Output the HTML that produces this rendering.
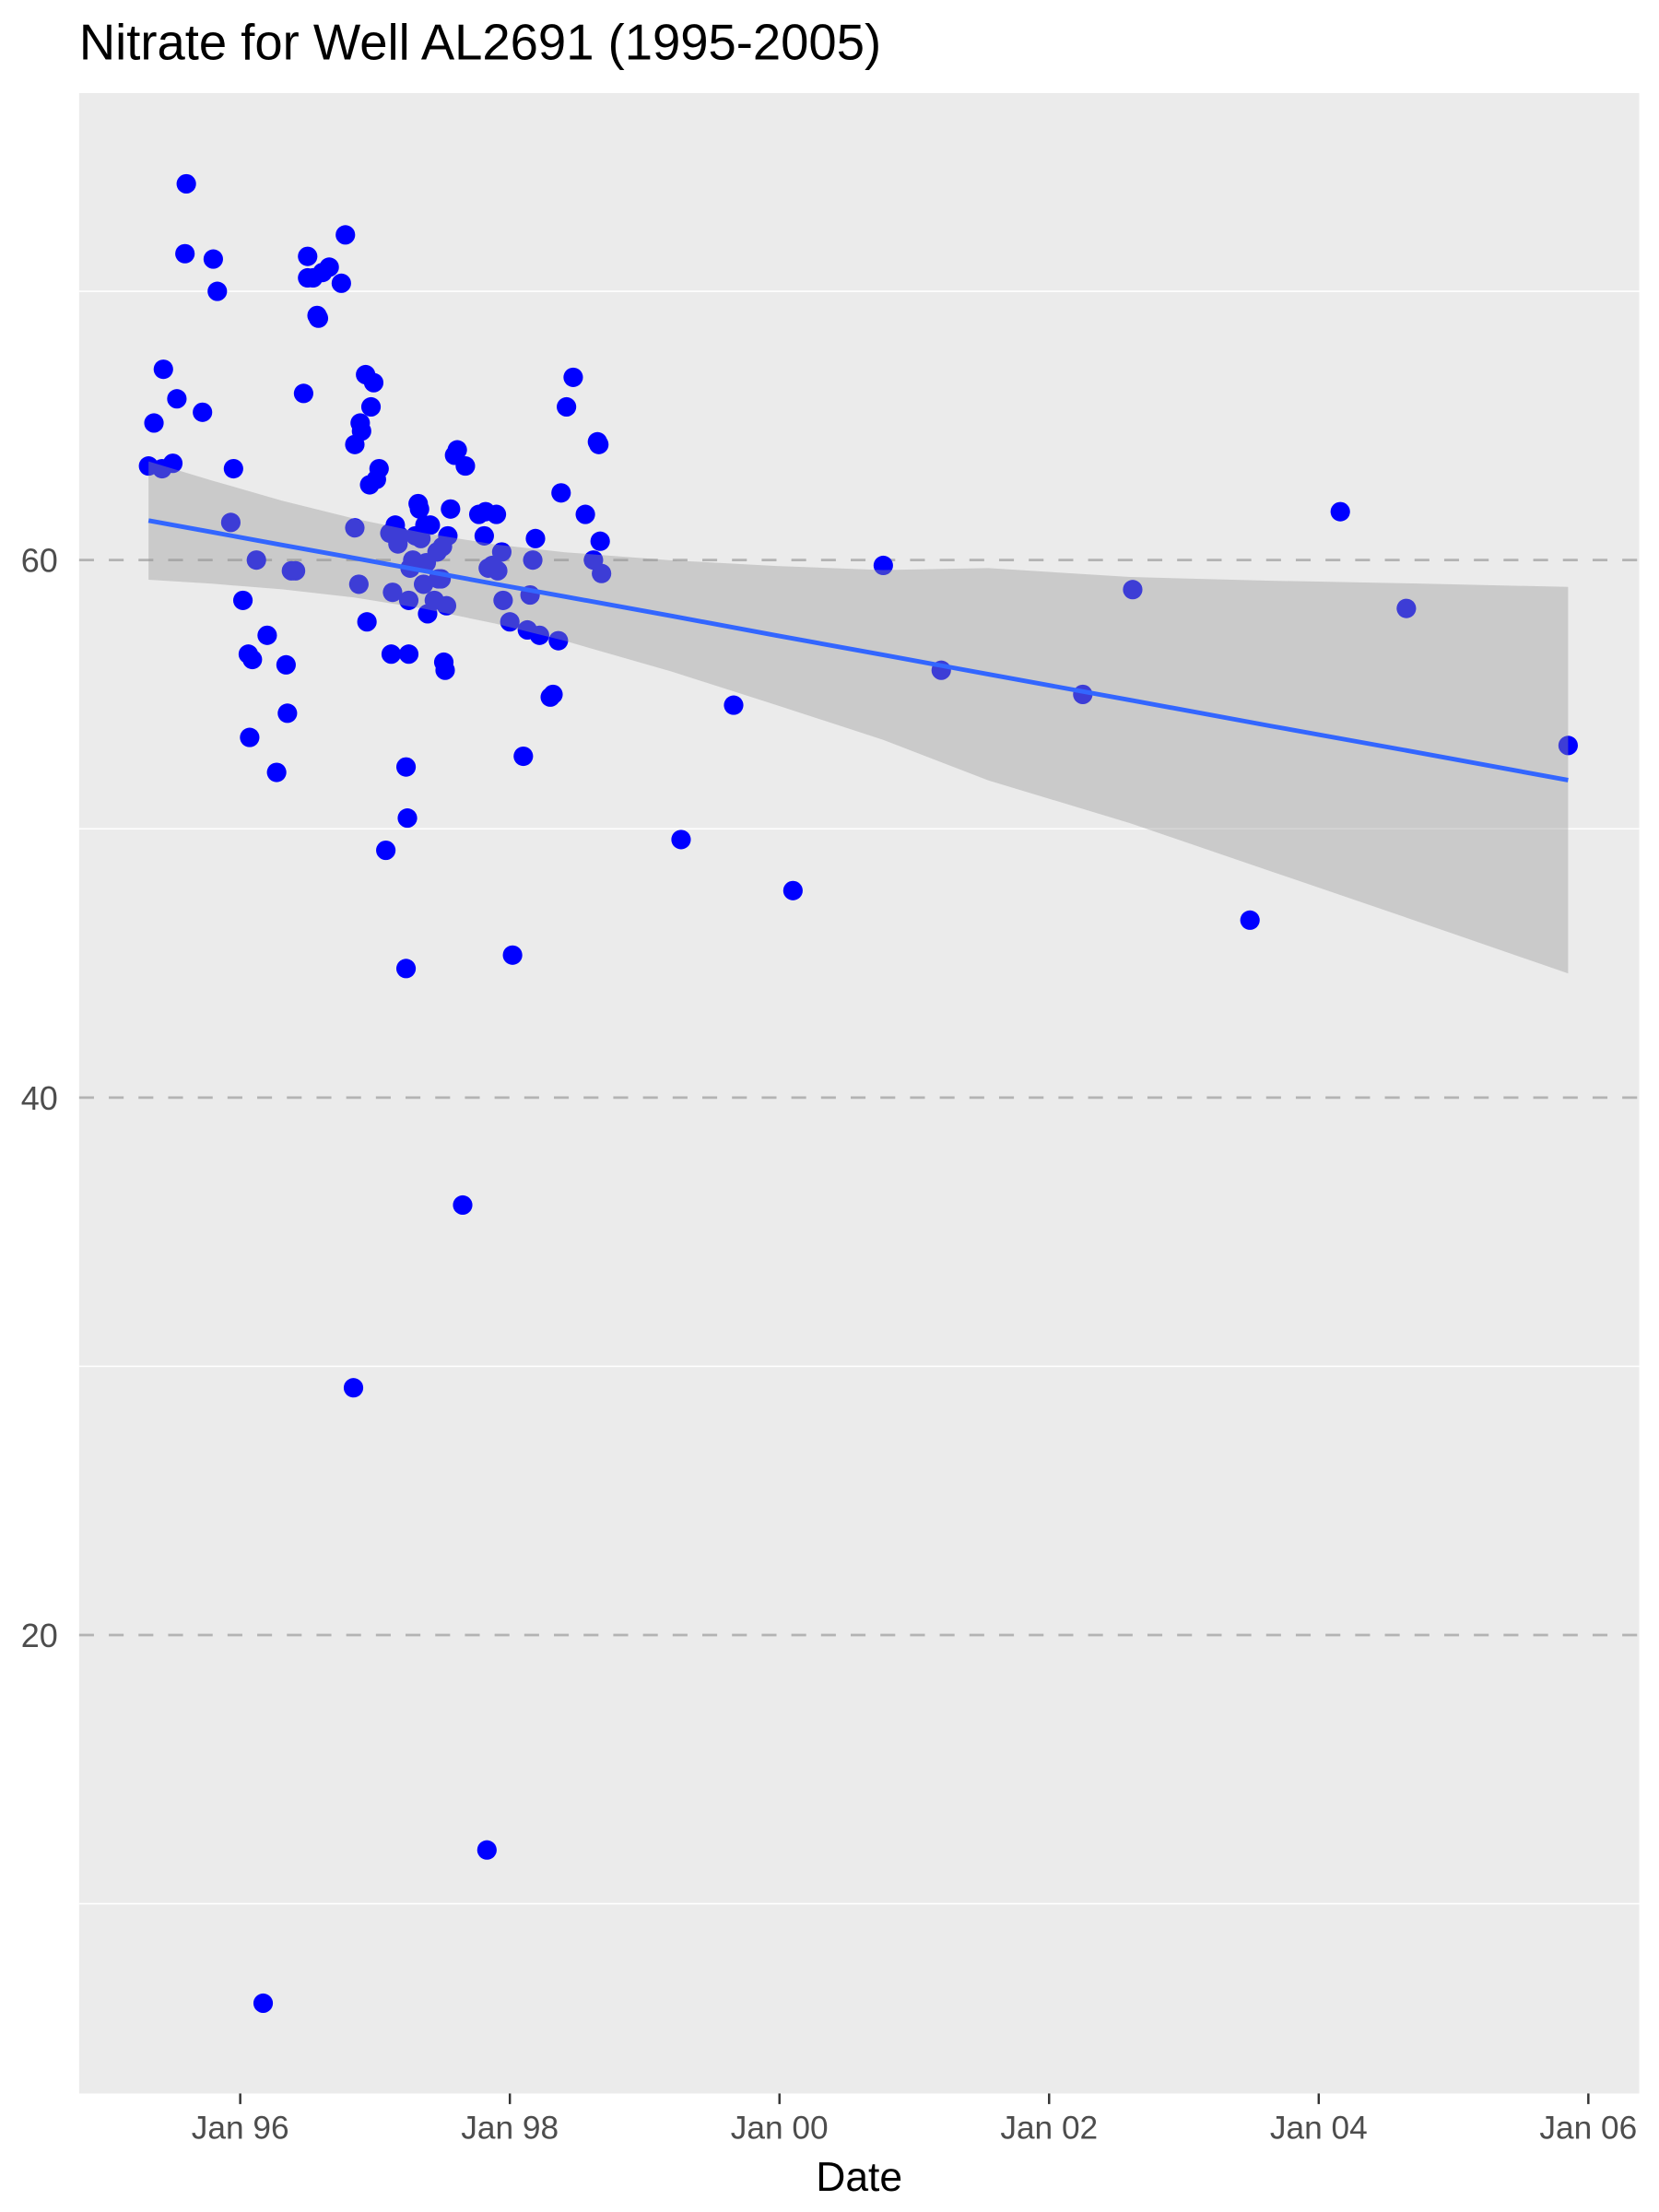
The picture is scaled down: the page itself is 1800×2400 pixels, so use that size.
<!DOCTYPE html>
<html><head><meta charset="utf-8"><style>
html,body{margin:0;padding:0;background:#fff;}
svg{display:block;}
text{font-family:"Liberation Sans",Arial,sans-serif;}
</style></head><body>
<svg id="chart" width="1800" height="2400" viewBox="0 0 1174 1568" preserveAspectRatio="none" xmlns="http://www.w3.org/2000/svg">
<rect x="0" y="0" width="1174" height="1568" fill="#fff"/>
<text x="56" y="42" font-size="35.5" fill="#000">Nitrate for Well AL2691 (1995-2005)</text>
<rect x="56" y="66" width="1104" height="1418" fill="#ebebeb"/>
<g id="grid"></g>
<g id="points"></g>
<g id="smooth"></g>
<g id="axes"></g>
<text x="608" y="1553" font-size="29" text-anchor="middle" fill="#000">Date</text>
</svg>
<script>
const years=[1995.32,1995.36,1995.43,1995.42,1995.50,1995.53,1995.59,1995.60,1995.72,1995.80,1995.83,1995.93,1995.95,1996.02,1996.06,1996.07,1996.09,1996.12,1996.17,1996.20,1996.27,1996.34,1996.35,1996.38,1996.41,1996.47,1996.50,1996.50,1996.54,1996.57,1996.58,1996.61,1996.66,1996.75,1996.78,1996.84,1996.85,1996.85,1996.88,1996.89,1996.90,1996.93,1996.94,1996.96,1996.97,1996.99,1997.01,1997.03,1997.08,1997.11,1997.12,1997.13,1997.15,1997.17,1997.18,1997.23,1997.23,1997.24,1997.25,1997.25,1997.26,1997.28,1997.30,1997.32,1997.33,1997.34,1997.36,1997.37,1997.38,1997.39,1997.41,1997.44,1997.46,1997.47,1997.49,1997.50,1997.51,1997.52,1997.53,1997.54,1997.56,1997.59,1997.61,1997.65,1997.67,1997.77,1997.81,1997.82,1997.83,1997.84,1997.87,1997.90,1997.91,1997.94,1997.95,1998.00,1998.02,1998.10,1998.13,1998.15,1998.17,1998.19,1998.22,1998.30,1998.32,1998.36,1998.38,1998.42,1998.47,1998.56,1998.62,1998.65,1998.66,1998.67,1998.68,1999.27,1999.66,2000.10,2000.77,2001.20,2002.25,2002.62,2003.49,2004.16,2004.65,2005.85];
const nitrate=[63.5,65.1,67.1,63.4,63.6,66.0,71.4,74.0,65.5,71.2,70.0,61.4,63.4,58.5,56.5,53.4,56.3,60.0,6.3,57.2,52.1,56.1,54.3,59.6,59.6,66.2,71.3,70.5,70.5,69.1,69.0,70.7,70.9,70.3,72.1,29.2,64.3,61.2,59.1,65.1,64.8,66.9,57.7,62.8,65.7,66.6,63.0,63.4,49.2,61.0,56.5,58.8,61.3,60.6,60.9,52.3,44.8,50.4,56.5,58.5,59.7,60.0,60.9,62.1,61.9,60.8,59.1,61.3,59.9,58.0,61.3,58.5,60.3,59.3,59.3,60.5,56.2,55.9,58.3,60.9,61.9,63.9,64.1,36.0,63.5,61.7,60.9,61.8,12.0,59.7,59.8,61.7,59.6,60.3,58.5,57.7,45.3,52.7,57.4,58.7,60.0,60.8,57.2,54.9,55.0,57.0,62.5,65.7,66.8,61.7,60.0,64.4,64.3,60.7,59.5,49.6,54.6,47.7,59.8,55.9,55.0,58.9,46.6,61.8,58.2,53.1];
// fitted linear trend (lm) and 95% CI half-width
const fitYears=[1995.32,1995.79,1996.31,1996.84,1997.36,1997.89,1998.41,1999.20,1999.98,2000.77,2001.55,2002.60,2003.65,2004.70,2005.85];
const fitValues=[61.47,61.04,60.56,60.08,59.60,59.11,58.64,57.92,57.19,56.47,55.75,54.79,53.82,52.87,51.81];
const fitHalfWidth=[2.20,1.92,1.65,1.47,1.41,1.47,1.65,2.07,2.59,3.16,3.95,4.58,5.41,6.26,7.19];
const xTickYears=[1996,1998,2000,2002,2004,2006];
const xTickLabels=["Jan 96","Jan 98","Jan 00","Jan 02","Jan 04","Jan 06"];
const yMajor=[20,40,60];
const yMinor=[10,30,50,70];

const NS="http://www.w3.org/2000/svg";
function X(yr){return 170+(yr-1996)*95.4;}
function Y(v){return 397-(v-60)*19.05;}
function mk(tag,attrs,parent){const e=document.createElementNS(NS,tag);for(const k in attrs)e.setAttribute(k,attrs[k]);parent.appendChild(e);return e;}
const grid=document.getElementById('grid'),pts=document.getElementById('points'),sm=document.getElementById('smooth'),ax=document.getElementById('axes');

yMinor.forEach(v=>{
  const l=mk('line',{x1:56,x2:1160,y1:Y(v),y2:Y(v),stroke:'#fff','stroke-width':1},grid);
  
  
});
yMajor.forEach(v=>{
  const l=mk('line',{x1:56,x2:1160,y1:Y(v),y2:Y(v),stroke:'#b3b3b3','stroke-width':1.8,'stroke-dasharray':'10.5 10.5'},grid);
  
  
  const t=mk('text',{x:41,y:Y(v)+8.5,'font-size':'23.5','text-anchor':'end',fill:'#4d4d4d'},ax);
  t.textContent=String(v);
  
  
});
xTickYears.forEach((yr,i)=>{
  const tk=mk('line',{x1:X(yr),x2:X(yr),y1:1484,y2:1491.5,stroke:'#333','stroke-width':1.6},ax);
  
  
  const t=mk('text',{x:X(yr),y:1516,'font-size':'23','text-anchor':'middle',fill:'#4d4d4d'},ax);
  t.textContent=xTickLabels[i];
  
  
});
years.forEach((yr,i)=>{
  const c=mk('circle',{cx:X(yr),cy:Y(nitrate[i]),r:6.9,fill:'#0000ff'},pts);
  
  
});
let up=[],lo=[],ln=[];
fitYears.forEach((yr,i)=>{
  up.push(X(yr)+','+Y(fitValues[i]+fitHalfWidth[i]));
  lo.unshift(X(yr)+','+Y(fitValues[i]-fitHalfWidth[i]));
  ln.push(X(yr)+','+Y(fitValues[i]));
});
const band=mk('polygon',{points:up.concat(lo).join(' '),fill:'#999999','fill-opacity':0.4},sm);


const fit=mk('polyline',{points:ln.join(' '),fill:'none',stroke:'#3366ff','stroke-width':3.2},sm);


</script>
</body></html>
